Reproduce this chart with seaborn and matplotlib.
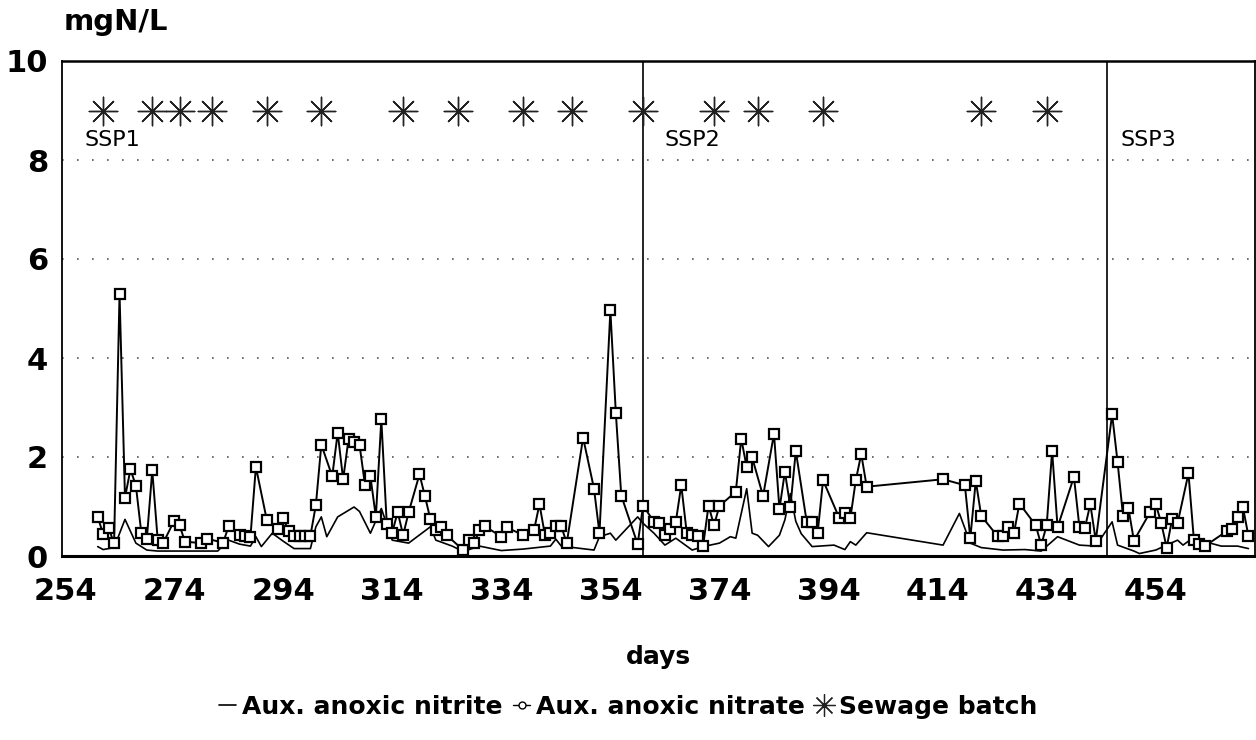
import matplotlib
matplotlib.use("Agg")
import matplotlib.pyplot as plt
from matplotlib.lines import Line2D
import seaborn as sns
import pandas as pd

# ---- data ----
nitrate_days = [260, 261, 262, 263, 264, 265, 266, 267, 268, 269, 270, 271, 272, 274, 275, 276,
                279, 280, 283, 284, 286, 287, 288, 289, 291, 293, 294, 295, 296, 297, 298, 299,
                300, 301, 303, 304, 305, 306, 307, 308, 309, 310, 311, 312, 313, 314, 315, 316,
                317, 319, 320, 321, 322, 323, 324, 327, 328, 329, 330, 331, 334, 335, 338, 340,
                341, 342, 343, 344, 345, 346, 349, 351, 352, 354, 355, 356, 359, 360, 362, 363,
                364, 365, 366, 367, 368, 369, 370, 371, 372, 373, 374, 377, 378, 379, 380, 382,
                384, 385, 386, 387, 388, 390, 391, 392, 393, 396, 397, 398, 399, 400, 401, 415,
                419, 420, 421, 422, 425, 426, 427, 428, 429, 432, 433, 434, 435, 436, 439, 440,
                441, 442, 443, 446, 447, 448, 449, 450, 453, 454, 455, 456, 457, 458, 460, 461,
                462, 463, 467, 468, 469, 470, 471]
nitrate_vals = [0.79, 0.44, 0.56, 0.26, 5.30, 1.18, 1.75, 1.42, 0.46, 0.34, 1.73, 0.32, 0.26, 0.71, 0.62, 0.29,
                0.26, 0.35, 0.27, 0.60, 0.42, 0.40, 0.38, 1.80, 0.73, 0.54, 0.76, 0.51, 0.41, 0.41, 0.41, 0.41,
                1.03, 2.25, 1.61, 2.49, 1.55, 2.37, 2.30, 2.25, 1.44, 1.61, 0.79, 2.76, 0.65, 0.47, 0.89, 0.42,
                0.88, 1.65, 1.21, 0.74, 0.52, 0.58, 0.42, 0.12, 0.32, 0.26, 0.52, 0.60, 0.39, 0.58, 0.42, 0.52,
                1.05, 0.42, 0.47, 0.60, 0.60, 0.26, 2.39, 1.36, 0.46, 4.96, 2.89, 1.22, 0.24, 1.02, 0.69, 0.67,
                0.42, 0.54, 0.69, 1.43, 0.47, 0.42, 0.40, 0.20, 1.02, 0.62, 1.01, 1.30, 2.37, 1.79, 1.99, 1.21,
                2.47, 0.95, 1.70, 0.99, 2.12, 0.69, 0.69, 0.46, 1.53, 0.76, 0.86, 0.76, 1.53, 2.06, 1.40, 1.55,
                1.43, 0.36, 1.52, 0.81, 0.40, 0.41, 0.59, 0.46, 1.06, 0.62, 0.22, 0.62, 2.12, 0.58, 1.60, 0.59,
                0.56, 1.05, 0.31, 2.86, 1.90, 0.81, 0.96, 0.31, 0.89, 1.05, 0.67, 0.17, 0.74, 0.66, 1.67, 0.32,
                0.24, 0.20, 0.50, 0.54, 0.79, 0.98, 0.40]

nitrite_days = [260, 261, 263, 265, 267, 269, 271, 273, 276, 279, 282, 284, 286, 288, 289, 290,
                292, 294, 296, 299, 300, 301, 302, 304, 307, 308, 310, 312, 314, 317, 321, 322,
                325, 327, 330, 334, 338, 343, 344, 345, 351, 352, 354, 355, 359, 360, 362, 364,
                366, 369, 371, 374, 376, 377, 379, 380, 381, 383, 385, 386, 387, 388, 389, 391,
                395, 397, 398, 399, 401, 415, 418, 420, 422, 426, 430, 433, 436, 440, 443, 446,
                447, 450, 451, 454, 456, 458, 459, 461, 463, 466, 469, 471]
nitrite_vals = [0.19, 0.13, 0.17, 0.74, 0.26, 0.12, 0.10, 0.10, 0.10, 0.10, 0.10, 0.32, 0.24, 0.20, 0.39, 0.19,
                0.46, 0.30, 0.15, 0.15, 0.59, 0.79, 0.39, 0.79, 0.99, 0.90, 0.46, 0.96, 0.32, 0.26, 0.59, 0.32,
                0.20, 0.09, 0.20, 0.11, 0.14, 0.20, 0.34, 0.20, 0.12, 0.39, 0.46, 0.32, 0.79, 0.66, 0.46, 0.22,
                0.36, 0.12, 0.19, 0.26, 0.39, 0.36, 1.36, 0.46, 0.42, 0.19, 0.42, 0.73, 1.26, 0.70, 0.45, 0.19,
                0.22, 0.13, 0.29, 0.22, 0.47, 0.22, 0.86, 0.26, 0.17, 0.12, 0.13, 0.10, 0.39, 0.22, 0.20, 0.69,
                0.22, 0.10, 0.05, 0.12, 0.22, 0.32, 0.22, 0.38, 0.29, 0.20, 0.20, 0.15]

batch_days = [261, 270, 275, 281, 291, 301, 316, 326, 338, 347, 360, 373, 381, 393, 422, 434]
batch_level = 9.0

phase_starts = [360, 445]
phase_labels = ["SSP1", "SSP2", "SSP3"]
phase_label_days = [257.5, 364, 447.5]
phase_label_level = 8.4

xticks = [254, 274, 294, 314, 334, 354, 374, 394, 414, 434, 454]
yticks = [0, 2, 4, 6, 8, 10]

# ---- plotting ----
sns.set_theme(style="white")
plt.rcParams['font.family'] = ['DejaVu Sans']
plt.rcParams['text.color'] = 'black'
plt.rcParams['xtick.color'] = 'black'
plt.rcParams['ytick.color'] = 'black'
plt.rcParams['axes.labelcolor'] = 'black'

fig = plt.figure(figsize=(12.56, 7.40), dpi=100)
ax = fig.add_axes([62 / 1256, 1 - 556 / 740, 1 - 62 / 1256 - 1 / 1256, (556 - 61) / 740])

df_no3 = pd.DataFrame({"day": nitrate_days, "val": nitrate_vals})
df_no2 = pd.DataFrame({"day": nitrite_days, "val": nitrite_vals})
df_b = pd.DataFrame({"day": batch_days, "val": [batch_level] * len(batch_days)})

for yv in yticks[1:-1]:
    ax.axhline(yv, color="#555555", lw=1.2, ls=(0, (1, 8)), zorder=0)

sns.lineplot(data=df_no2, x="day", y="val", ax=ax, color="black", lw=1.2, zorder=2)
sns.lineplot(data=df_no3, x="day", y="val", ax=ax, color="black", lw=1.4,
             marker="s", markersize=7.5, markerfacecolor="white", markeredgecolor="black",
             markeredgewidth=1.6, zorder=3)
sns.scatterplot(data=df_b, x="day", y="val", ax=ax, marker=(8, 2, 0), s=420,
                color="#222222", linewidth=1.0, zorder=4)

for d in phase_starts:
    ax.axvline(d, color="black", lw=1.2, zorder=1)
for lab, d in zip(phase_labels, phase_label_days):
    ax.text(d, phase_label_level, lab, fontsize=16, ha="left", va="center")

ax.set_xlim(253.45, 472.2)
ax.set_ylim(0, 10)
ax.set_xticks(xticks)
ax.set_xticklabels([str(t) for t in xticks], fontsize=22, fontweight="bold")
ax.set_yticks(yticks)
ax.set_yticklabels([str(t) for t in yticks], fontsize=22, fontweight="bold")
ax.tick_params(axis="x", length=0, pad=15)
ax.tick_params(axis="y", length=0, pad=10)
ax.set_xlabel("days", fontsize=18, fontweight="bold", labelpad=28)
ax.set_ylabel("")
for s in ax.spines.values():
    s.set_color("black")
    s.set_linewidth(1.3)
ax.spines["bottom"].set_linewidth(2.2)
ax.spines["top"].set_linewidth(1.8)

fig.text(64 / 1256, 1 - 22 / 740, "mgN/L", fontsize=21, fontweight="bold", ha="left", va="center")

handles = [
    Line2D([], [], color="black", lw=1.2),
    Line2D([], [], color="black", lw=1.0, marker="o", markersize=5,
           markerfacecolor="white", markeredgecolor="black"),
    Line2D([], [], color="#222222", lw=0, marker=(8, 2, 0), markersize=16, markeredgewidth=0.9),
]
fig.legend(handles, ["Aux. anoxic nitrite", "Aux. anoxic nitrate", "Sewage batch"],
           loc="center", bbox_to_anchor=(0.5, 1 - 707 / 740), ncol=3, frameon=False,
           handlelength=0.7, handletextpad=0.25, columnspacing=0.4,
           prop={"size": 18, "weight": "bold"})

fig.savefig("out.png", dpi=100)
